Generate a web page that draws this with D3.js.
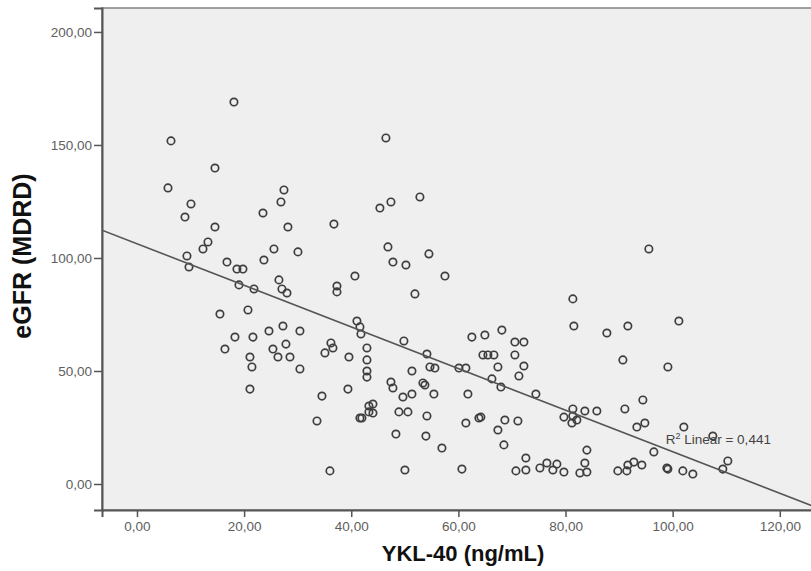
<!DOCTYPE html>
<html>
<head>
<meta charset="utf-8">
<script src="https://cdn.jsdelivr.net/npm/d3@7"></script>
<style>
  html, body { margin: 0; padding: 0; background: #ffffff; }
  svg { display: block; }
</style>
</head>
<body>
<svg id="chart" width="811" height="571"></svg>
<script>
// YKL-40 (ng/mL) for each subject
const ykl40 = [
  18.1, 6.35, 14.56, 5.79, 27.44, 26.88, 10.08, 8.96, 23.52, 14.56,
  28.18, 36.77, 13.25, 12.32, 25.57, 30.05, 9.33, 9.71, 16.8, 23.7,
  18.66, 19.78, 40.69, 26.5, 37.33, 19.04, 21.84, 27.06, 28.0, 37.33,
  15.49, 20.72, 18.29, 21.65, 24.64, 27.25, 30.42, 16.42, 21.09, 21.46,
  25.38, 27.81, 26.32, 28.56, 30.42, 21.09, 34.53, 33.6, 39.38, 41.62,
  36.02, 36.21, 36.58, 35.09, 39.57, 41.06, 41.62, 41.81, 42.93, 42.93,
  42.93, 42.93, 43.3, 43.3, 46.47, 45.35, 47.41, 52.82, 46.85, 47.78,
  50.21, 54.5, 57.49, 51.89, 49.83, 54.13, 54.69, 55.62, 51.33, 47.41,
  47.78, 53.38, 53.75, 49.65, 51.33, 55.43, 44.05, 44.05, 41.99, 48.9,
  50.58, 54.13, 48.34, 53.94, 56.93, 50.02, 60.66, 62.52, 64.95, 68.12,
  70.55, 72.23, 64.58, 65.51, 66.63, 70.55, 67.38, 72.23, 71.3, 60.1,
  61.4, 66.26, 67.94, 61.78, 74.47, 61.4, 63.83, 64.2, 68.68, 71.11,
  67.38, 68.5, 81.37, 81.56, 87.72, 79.7, 81.37, 81.37, 81.19, 82.12,
  83.61, 85.85, 83.99, 72.6, 70.74, 72.6, 75.22, 76.52, 78.39, 77.64,
  79.7, 83.61, 82.68, 83.99, 95.56, 91.64, 101.16, 90.71, 99.11, 94.44,
  91.08, 93.32, 94.81, 102.09, 107.5, 96.49, 110.3, 109.37, 89.77, 91.45,
  91.64, 92.76, 94.25, 98.92, 99.11, 101.9, 103.77
];

// eGFR (MDRD) for the same subjects, in the same order
const egfr = [
  169.0, 151.8, 139.8, 131.0, 130.1, 124.8, 123.9, 118.1, 119.9, 113.7,
  113.7, 115.0, 107.1, 104.0, 104.0, 102.7, 100.9, 96.0, 98.2, 99.1,
  95.1, 95.1, 92.0, 90.3, 87.6, 88.1, 86.3, 86.3, 84.5, 85.0,
  75.2, 77.0, 65.0, 65.0, 67.7, 69.9, 67.7, 59.7, 56.2, 51.8,
  59.7, 61.9, 56.2, 56.2, 50.9, 42.0, 38.9, 27.9, 42.0, 29.2,
  5.8, 62.4, 60.2, 58.0, 56.2, 72.1, 69.5, 66.4, 60.2, 54.9,
  50.0, 47.3, 34.5, 31.9, 153.1, 122.1, 124.8, 127.0, 104.9, 98.2,
  96.9, 101.8, 92.0, 84.1, 63.3, 57.5, 51.8, 51.3, 50.0, 45.1,
  42.5, 44.7, 43.8, 38.5, 39.8, 39.8, 35.4, 31.4, 29.2, 31.9,
  31.9, 30.1, 22.1, 21.2, 15.9, 6.2, 6.6, 65.0, 65.9, 68.1,
  62.8, 62.8, 57.1, 57.1, 57.1, 57.1, 51.8, 52.2, 47.8, 51.3,
  51.3, 46.5, 42.9, 39.8, 39.8, 27.0, 29.2, 29.6, 28.3, 27.9,
  23.9, 17.3, 81.9, 69.9, 66.8, 29.6, 33.2, 30.1, 27.0, 28.3,
  32.3, 32.3, 15.0, 11.5, 5.8, 6.2, 7.1, 9.3, 8.8, 6.2,
  5.3, 9.3, 4.9, 5.3, 104.0, 69.9, 72.1, 54.9, 51.8, 37.2,
  33.2, 25.2, 27.0, 25.2, 21.2, 14.2, 10.2, 6.6, 5.8, 5.8,
  8.4, 9.7, 8.4, 7.1, 6.6, 5.8, 4.4
];

// Axis ticks
const xTicks = [0, 20, 40, 60, 80, 100, 120];
const yTicks = [0, 50, 100, 150, 200];

// Linear fit: eGFR = intercept + slope * YKL-40
const fitIntercept = [106.3];
const fitSlope = [-0.92];
const fitR2 = [0.441];

const svg = d3.select("#chart");
const plotL = 102, plotR = 813, plotT = 8, plotB = 510;

const x = d3.scaleLinear().domain([-6.53, 126.2]).range([plotL, plotR]);
const y = d3.scaleLinear().domain([-11.5, 210.6]).range([plotB, plotT]);

const locale = d3.formatLocale({ decimal: ",", thousands: ".", grouping: [3], currency: ["", ""] });
const fmt = locale.format(".2f");

// Plot background
svg.append("rect")
  .attr("x", plotL).attr("y", plotT)
  .attr("width", plotR - plotL).attr("height", plotB - plotT)
  .attr("fill", "#efefef")
  .attr("stroke", "#8a8a8a")
  .attr("stroke-width", 1.6);

svg.append("defs").append("clipPath").attr("id", "plotClip")
  .append("rect")
  .attr("x", plotL).attr("y", plotT)
  .attr("width", plotR - plotL).attr("height", plotB - plotT);

// Axes
const xAxis = svg.append("g")
  .attr("transform", `translate(0,${plotB})`)
  .call(d3.axisBottom(x).tickValues(xTicks).tickFormat(fmt).tickSize(7).tickPadding(4));
const yAxis = svg.append("g")
  .attr("transform", `translate(${plotL},0)`)
  .call(d3.axisLeft(y).tickValues(yTicks).tickFormat(fmt).tickSize(8).tickPadding(2));

[xAxis, yAxis].forEach(g => {
  g.select(".domain").attr("stroke", "#555").attr("stroke-width", 2);
  g.selectAll(".tick line").attr("stroke", "#555").attr("stroke-width", 1.5);
  g.selectAll(".tick text")
    .attr("fill", "#5e5e5e")
    .style("font-family", "Arial, 'Liberation Sans', sans-serif")
    .style("font-size", "13.5px");
});

// Points
const pts = ykl40.map((v, i) => ({ x: v, y: egfr[i] }));
svg.append("g").attr("clip-path", "url(#plotClip)")
  .selectAll("circle")
  .data(pts)
  .join("circle")
  .attr("cx", d => x(d.x))
  .attr("cy", d => y(d.y))
  .attr("r", 3.7)
  .attr("fill", "none")
  .attr("stroke", "#3e3e3e")
  .attr("stroke-width", 1.7);

// Fit line
const xd = x.domain();
svg.append("g").attr("clip-path", "url(#plotClip)")
  .append("line")
  .attr("x1", x(xd[0])).attr("y1", y(fitIntercept[0] + fitSlope[0] * xd[0]))
  .attr("x2", x(xd[1])).attr("y2", y(fitIntercept[0] + fitSlope[0] * xd[1]))
  .attr("stroke", "#555")
  .attr("stroke-width", 1.6);

// Fit label
const lbl = svg.append("text")
  .attr("x", x(98.7)).attr("y", y(17.6))
  .attr("fill", "#444")
  .style("font-family", "Arial, 'Liberation Sans', sans-serif")
  .style("font-size", "13.5px");
lbl.append("tspan").text("R");
lbl.append("tspan").attr("dy", -5).style("font-size", "9px").text("2");
lbl.append("tspan").attr("dy", 5).text(" Linear = " + locale.format(".3f")(fitR2[0]));

// Axis titles
svg.append("text")
  .attr("x", 463).attr("y", 561)
  .attr("text-anchor", "middle")
  .attr("fill", "#111")
  .style("font-family", "Arial, 'Liberation Sans', sans-serif")
  .style("font-weight", "bold")
  .style("font-size", "22px")
  .text("YKL-40 (ng/mL)");

svg.append("text")
  .attr("transform", "translate(31,256) rotate(-90)")
  .attr("text-anchor", "middle")
  .attr("fill", "#111")
  .style("font-family", "Arial, 'Liberation Sans', sans-serif")
  .style("font-weight", "bold")
  .style("font-size", "25px")
  .text("eGFR (MDRD)");
</script>
</body>
</html>
